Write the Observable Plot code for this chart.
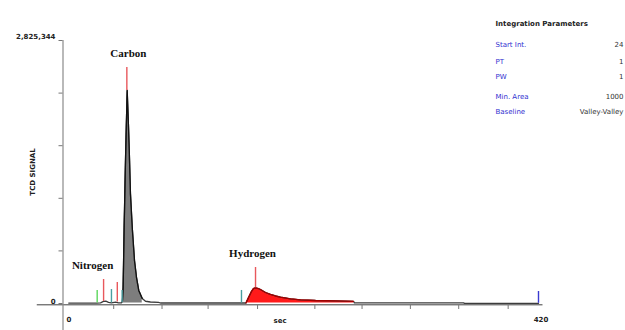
<!DOCTYPE html>
<html><head><meta charset="utf-8">
<script src="https://cdn.jsdelivr.net/npm/d3@7"></script>
<script src="https://cdn.jsdelivr.net/npm/@observablehq/plot@0.6"></script>
<style>
html,body{margin:0;padding:0;background:#fff;}
#chart{width:625px;height:330px;overflow:hidden;}
</style></head><body><div id="chart"></div>
<script>
// ---- data ----
const traceTime = [2, 27, 30.3, 32.9, 35, 37.4, 40, 43.6, 46.3, 49,
  49.8, 50.4, 51.3, 52.5, 53.2, 54.0, 55.2, 56.1, 56.9, 58.5, 60.5, 62.3, 64.3, 67.4, 70.3, 74.7, 81.9, 83.6,
  159.7, 162, 164.6, 166.4, 168.2, 170.8, 172.6, 177.1, 181.5, 186, 190.4, 199.3, 208.2, 221.6, 239.4, 255.4,
  256.2, 353.3, 354.2, 420];
const traceSignal = [5000, 5000, 7500, 22000, 25000, 12000, 6000, 15000, 7000, 7000,
  32000, 172000, 816000, 1536000, 1890000, 2288000, 1890000, 1536000, 1182000, 816000, 462000, 279000, 140000, 54000, 24000, 16000, 13000, 5400,
  5400, 64500, 129000, 161000, 169000, 161000, 150000, 118000, 97000, 80600, 67700, 50500, 39700, 32200, 28000, 23600,
  7500, 7500, 2000, 2000];

const markerTime = [27.3, 33, 40, 45.2, 49.5, 53.7, 155.7, 168.2, 420];
const markerTop  = [140000, 258000, 150000, 225000, 140000, 2535000, 140000, 387000, 129000];
const markerBase = [5000, 22000, 6000, 15000, 7000, 2288000, 5000, 169000, 2000];
const markerKind = ["start", "apex", "valley", "apex", "valley", "apex", "valley", "apex", "end"];

const peakNames = ["Nitrogen", "Carbon", "Hydrogen"];
const peakMarker = [1, 5, 7]; // index of the apex marker of each peak

const carbonRange = [49.8, 67.4];
const hydrogenRange = [159.7, 255.4];

const yMax = 2825344;
const yTicks = [0, 565069, 1130138, 1695206, 2260275, 2825344];
const yTickLabels = [0, 2825344];
const xTicks = [42, 85, 126, 170, 221, 263, 306, 349, 393];
const xTickLabels = [0, 420];
const xLabel = "sec";
const yLabel = "TCD SIGNAL";

const paramTitle = "Integration Parameters";
const paramNames = ["Start Int.", "PT", "PW", "Min. Area", "Baseline"];
const paramValues = ["24", "1", "1", "1000", "Valley-Valley"];

// ---- build ----
const trace = traceTime.map((t, i) => ({t, s: traceSignal[i]}));
const carbon = trace.filter(d => d.t >= carbonRange[0] && d.t <= carbonRange[1]);
const hydrogen = trace.filter(d => d.t >= hydrogenRange[0] && d.t <= hydrogenRange[1]);
const markers = markerTime.map((t, i) => ({t, top: markerTop[i], base: markerBase[i], kind: markerKind[i]}));
const kindColor = {start: "#5cd65c", apex: "#e8585c", valley: "#4a9ea0", end: "#3a3ad0"};
const peaks = peakNames.map((name, i) => ({name, t: markerTime[peakMarker[i]], top: markerTop[peakMarker[i]]}));
const peakDx = {Nitrogen: -11, Carbon: 1.5, Hydrogen: -3};

const axisFont = {fontFamily: "DejaVu Sans", fontWeight: "bold", fontSize: 7, fill: "#222"};
const rowDy = [3, 20, 35, 55, 70];

const panelMarks = [
  Plot.text([paramTitle], {text: d => d, frameAnchor: "top-right", dx: -43, dy: -19, textAnchor: "start",
    fontFamily: "DejaVu Sans", fontWeight: "bold", fontSize: 7, fill: "#222"}),
  ...paramNames.map((n, i) => Plot.text([n], {text: d => d, frameAnchor: "top-right", dx: -43, dy: rowDy[i] - 1,
    textAnchor: "start", fontFamily: "DejaVu Sans", fontSize: 7, fill: "#3030d0"})),
  ...paramValues.map((v, i) => Plot.text([v], {text: d => d, frameAnchor: "top-right", dx: 85, dy: rowDy[i] - 1,
    textAnchor: "end", fontFamily: "DejaVu Sans", fontSize: 7, fill: "#333"}))
];

const chart = Plot.plot({
  width: 625,
  height: 330,
  marginLeft: 66,
  marginRight: 87,
  marginTop: 40,
  marginBottom: 27,
  x: {domain: [0, 420], axis: null},
  y: {domain: [0, yMax], axis: null},
  style: {fontFamily: "DejaVu Sans", background: "white"},
  marks: [
    // axes lines
    Plot.ruleY([0], {x1: -26, x2: 424, dy: 1, stroke: "#7a7a7a", strokeWidth: 1}),
    Plot.ruleY([0], {x1: -26, x2: 424, dy: 2, stroke: "#c4c4c4", strokeWidth: 1}),
    Plot.ruleX([0], {y1: yMax, y2: 0, dx: -3.5, insetBottom: -27, stroke: "#8a8a8a", strokeWidth: 1.2}),
    Plot.axisY({ticks: yTicks, tickSize: 4, tickFormat: () => "", dx: -3.5, stroke: "#777"}),
    Plot.ruleX(xTicks, {x: d => d, y1: 0, y2: 0, insetTop: 2, insetBottom: -6, stroke: "#777"}),
    // tick labels
    Plot.text([yTickLabels[1]], {y: d => d, text: d => d3.format(",")(d), frameAnchor: "left", dx: -11, dy: -4, textAnchor: "end", ...axisFont}),
    Plot.text([yTickLabels[0]], {y: d => d, text: d => d3.format(",")(d), frameAnchor: "left", dx: -11, dy: -2, textAnchor: "end", ...axisFont}),
    Plot.text(xTickLabels, {x: d => d, text: d => String(d), frameAnchor: "bottom", dx: 2.5, dy: 18, ...axisFont}),
    Plot.text([xLabel], {x: 190, text: d => d, frameAnchor: "bottom", dy: 19, ...axisFont}),
    Plot.text([yLabel], {x: -30.3, y: yMax / 2, text: d => d, rotate: -90, ...axisFont}),
    // fills
    Plot.areaY(carbon, {x: "t", y1: 5000, y2: "s", fill: "#7d7d7d"}),
    Plot.areaY(hydrogen, {x: "t", y1: 5000, y2: "s", fill: "#ff1a1a"}),
    // trace
    Plot.line(trace, {x: "t", y: "s", stroke: "#3c3c3c", strokeWidth: 1.3}),
    Plot.line(carbon, {x: "t", y: "s", stroke: "#111", strokeWidth: 1.3}),
    Plot.line(hydrogen, {x: "t", y: "s", stroke: "#a00000", strokeWidth: 1.3}),
    // event markers
    Plot.ruleX(markers, {x: "t", y1: "base", y2: "top", stroke: d => kindColor[d.kind], strokeWidth: 1.4}),
    // peak names
    ...peaks.map(p => Plot.text([p], {x: "t", y: "top", text: "name", dy: -14, dx: peakDx[p.name],
      fontFamily: "Liberation Serif", fontWeight: "bold", fontSize: 11, fill: "#111"})),
    ...panelMarks
  ]
});
document.getElementById("chart").appendChild(chart);
</script>
</body></html>
